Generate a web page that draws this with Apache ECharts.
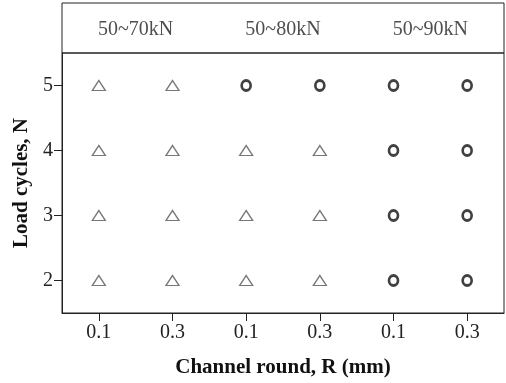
<!DOCTYPE html>
<html>
<head>
<meta charset="utf-8">
<script src="https://cdn.jsdelivr.net/npm/echarts@6/dist/echarts.min.js"></script>
<style>
  html, body { margin: 0; padding: 0; background: #fff; }
  #chart { width: 506px; height: 383px; }
</style>
</head>
<body>
<div id="chart"></div>
<script>
// Channel round radius for each column, grouped by load range
const radiusLabels = ['0.1', '0.3', '0.1', '0.3', '0.1', '0.3'];
// Load range for each pair of columns
const loadLabels = ['50~70kN', '50~80kN', '50~90kN'];
// Load cycle counts on the vertical axis
const cycleTicks = [2, 3, 4, 5];
// Observed result per column, for N = 2, 3, 4, 5 ('T' = triangle, 'O' = circle)
const col0 = ['T', 'T', 'T', 'T'];
const col1 = ['T', 'T', 'T', 'T'];
const col2 = ['T', 'T', 'T', 'O'];
const col3 = ['T', 'T', 'T', 'O'];
const col4 = ['O', 'O', 'O', 'O'];
const col5 = ['O', 'O', 'O', 'O'];
const outcomes = [col0, col1, col2, col3, col4, col5];

const triangleData = [];
const circleData = [];
outcomes.forEach(function (col, ci) {
  col.forEach(function (mark, ni) {
    const pt = [ci, cycleTicks[ni]];
    if (mark === 'T') triangleData.push(pt); else circleData.push(pt);
  });
});

const serif = '"Liberation Serif", "Times New Roman", serif';
const lineColor = '#222';

const chart = echarts.init(document.getElementById('chart'), null, { renderer: 'canvas' });
chart.setOption({
  backgroundColor: '#fff',
  animation: false,
  grid: [
    { left: 62, right: 2, top: 53, bottom: 68, show: true, borderColor: lineColor, borderWidth: 1, backgroundColor: 'transparent' },
    { left: 62, right: 2, top: 3, height: 50, show: true, borderColor: lineColor, borderWidth: 1, backgroundColor: 'transparent' }
  ],
  xAxis: [
    {
      gridIndex: 0,
      type: 'category',
      data: radiusLabels,
      boundaryGap: true,
      axisLine: { show: true, lineStyle: { color: lineColor, width: 1 } },
      axisTick: { show: true, alignWithLabel: true, length: 8, lineStyle: { color: lineColor, width: 1 } },
      axisLabel: { color: '#222', fontFamily: serif, fontSize: 20, margin: 10 },
      splitLine: { show: false },
      name: 'Channel round, R (mm)',
      nameLocation: 'middle',
      nameGap: 44,
      nameTextStyle: { color: '#111', fontFamily: serif, fontSize: 21, fontWeight: 'bold' }
    },
    {
      gridIndex: 1,
      type: 'category',
      data: loadLabels,
      show: false
    }
  ],
  yAxis: [
    {
      gridIndex: 0,
      type: 'value',
      min: 1.5,
      max: 5.5,
      axisLine: { show: true, lineStyle: { color: lineColor, width: 1 } },
      axisTick: { show: true, length: 8, customValues: cycleTicks, lineStyle: { color: lineColor, width: 1 } },
      axisLabel: { color: '#222', fontFamily: serif, fontSize: 20, margin: 9, customValues: cycleTicks },
      splitLine: { show: false },
      name: 'Load cycles, N',
      nameLocation: 'middle',
      nameGap: 30,
      nameTextStyle: { color: '#111', fontFamily: serif, fontSize: 21, fontWeight: 'bold' }
    },
    {
      gridIndex: 1,
      type: 'value',
      min: 0,
      max: 1,
      show: false
    }
  ],
  series: [
    {
      name: 'triangle',
      type: 'scatter',
      xAxisIndex: 0,
      yAxisIndex: 0,
      symbol: 'triangle',
      symbolSize: [13, 10],
      itemStyle: { color: 'transparent', borderColor: '#555', borderWidth: 1.3 },
      data: triangleData
    },
    {
      name: 'circle',
      type: 'scatter',
      xAxisIndex: 0,
      yAxisIndex: 0,
      symbol: 'circle',
      symbolSize: [9, 10],
      itemStyle: { color: 'transparent', borderColor: '#111', borderWidth: 2.8 },
      data: circleData
    },
    {
      name: 'load',
      type: 'scatter',
      xAxisIndex: 1,
      yAxisIndex: 1,
      symbolSize: 0,
      silent: true,
      label: {
        show: true,
        position: 'inside',
        formatter: function (p) { return loadLabels[p.data[0]]; },
        color: '#222',
        fontFamily: serif,
        fontSize: 20
      },
      data: loadLabels.map(function (l, i) { return [i, 0.47]; })
    }
  ]
});
</script>
</body>
</html>
